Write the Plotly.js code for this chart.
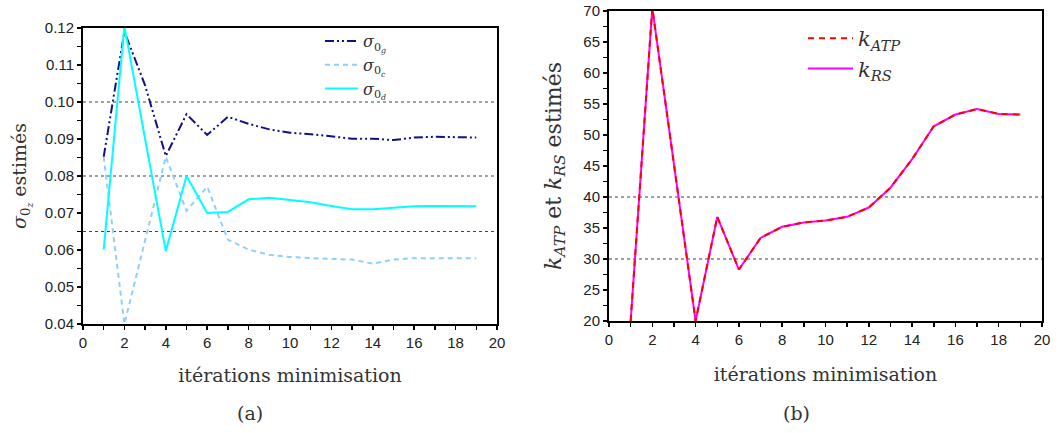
<!DOCTYPE html>
<html>
<head>
<meta charset="utf-8">
<script src="https://cdn.plot.ly/plotly-3.0.1.min.js"></script>
<style>html,body{margin:0;padding:0;background:#fff;}#chart{width:1059px;height:433px;}</style>
</head>
<body>
<div id="chart"></div>
<script>
// ---- data ----
const iterations = [1,2,3,4,5,6,7,8,9,10,11,12,13,14,15,16,17,18,19];
const sigma0g = [0.0852,0.1190,0.1045,0.0854,0.0967,0.0911,0.0960,0.0941,0.0926,0.0917,0.0913,0.0906,0.0901,0.0901,0.0897,0.0904,0.0906,0.0905,0.0904];
const sigma0c = [0.0852,0.0400,0.0626,0.0852,0.0706,0.0771,0.0628,0.0601,0.0587,0.0581,0.0578,0.0575,0.0574,0.0563,0.0574,0.0578,0.0578,0.0578,0.0578];
const sigma0d = [0.0601,0.1205,0.0900,0.0597,0.0800,0.0700,0.0703,0.0737,0.0741,0.0736,0.0729,0.0719,0.0710,0.0710,0.0715,0.0718,0.0719,0.0719,0.0718];
const kATP = [20.0,70.5,45.3,20.0,36.8,28.3,33.4,35.2,35.9,36.2,36.8,38.3,41.5,46.1,51.4,53.3,54.2,53.4,53.3];
const kRS  = [20.0,70.5,45.3,20.0,36.8,28.3,33.4,35.2,35.9,36.2,36.8,38.3,41.5,46.1,51.4,53.3,54.2,53.4,53.3];
const refLevelsA = [0.10, 0.08, 0.065];
const refLevelsB = [40, 30];
const nameG = '<i>σ</i><sub>0<sub><i>g</i></sub></sub>';
const nameC = '<i>σ</i><sub>0<sub><i>c</i></sub></sub>';
const nameD = '<i>σ</i><sub>0<sub><i>d</i></sub></sub>';
const nameATP = '<i>k</i><sub><i>ATP</i></sub>';
const nameRS = '<i>k</i><sub><i>RS</i></sub>';
const xTitle = 'itérations minimisation';
const yTitleA = '<i>σ</i><sub>0<sub><i>z</i></sub></sub> estimés';
const yTitleB = '<i>k</i><sub><i>ATP</i></sub> et <i>k</i><sub><i>RS</i></sub> estimés';

const W = 1059, H = 433;
const serif = 'DejaVu Serif';
const sans = 'Liberation Sans';

const traces = [
  {x: iterations, y: sigma0g, name: nameG, type: 'scatter', mode: 'lines', xaxis: 'x', yaxis: 'y', legend: 'legend',
   line: {color: '#10108a', width: 2, dash: '9px,3px,2px,3px,2px,3px'}},
  {x: iterations, y: sigma0c, name: nameC, type: 'scatter', mode: 'lines', xaxis: 'x', yaxis: 'y', legend: 'legend',
   line: {color: '#8fd0fb', width: 2, dash: '5px,4px'}},
  {x: iterations, y: sigma0d, name: nameD, type: 'scatter', mode: 'lines', xaxis: 'x', yaxis: 'y', legend: 'legend',
   line: {color: '#00ffff', width: 2}},
  {x: iterations, y: kRS, name: nameRS, type: 'scatter', mode: 'lines', xaxis: 'x2', yaxis: 'y2', legend: 'legend2', legendrank: 2,
   line: {color: '#ff00ff', width: 2}},
  {x: iterations, y: kATP, name: nameATP, type: 'scatter', mode: 'lines', xaxis: 'x2', yaxis: 'y2', legend: 'legend2', legendrank: 1,
   line: {color: '#ff0000', width: 2, dash: '6px,5px'}}
];

const shapes = [];
refLevelsA.forEach(v => shapes.push({type: 'line', xref: 'x domain', yref: 'y', x0: 0, x1: 1, y0: v, y1: v,
  line: {color: '#444', width: 1.2, dash: 'dot'}, layer: 'below'}));
refLevelsB.forEach(v => shapes.push({type: 'line', xref: 'x2 domain', yref: 'y2', x0: 0, x1: 1, y0: v, y1: v,
  line: {color: '#444', width: 1.2, dash: 'dot'}, layer: 'below'}));

function axisBase(extra) {
  return Object.assign({
    showgrid: false, zeroline: false, showline: true, linecolor: '#000', linewidth: 2, mirror: true,
    ticks: 'outside', ticklen: 4, tickwidth: 1.5, tickcolor: '#000',
    tickfont: {family: sans, size: 15, color: '#222'}, fixedrange: true
  }, extra);
}

const layout = {
  width: W, height: H,
  margin: {l: 0, r: 0, t: 0, b: 0},
  paper_bgcolor: '#fff', plot_bgcolor: '#fff',
  font: {family: serif},
  showlegend: true,
  xaxis: axisBase({domain: [83/W, 497/W], range: [0, 20], dtick: 2, tick0: 0, anchor: 'y',
    minor: {dtick: 1, ticks: 'outside', ticklen: 4, tickwidth: 1.5, tickcolor: '#000'},
    title: {text: xTitle, font: {family: serif, size: 19, color: '#333'}, standoff: 19}}),
  yaxis: axisBase({domain: [109/H, 405/H], range: [0.04, 0.12], dtick: 0.01, tick0: 0.04, tickformat: '.2f', anchor: 'x',
    minor: {dtick: 0.005, ticks: 'outside', ticklen: 4, tickwidth: 1.5, tickcolor: '#000'},
    title: {text: yTitleA, font: {family: serif, size: 19, color: '#333'}, standoff: 13}}),
  xaxis2: axisBase({domain: [609/W, 1042/W], range: [0, 20], dtick: 2, tick0: 0, anchor: 'y2',
    minor: {dtick: 1, ticks: 'outside', ticklen: 4, tickwidth: 1.5, tickcolor: '#000'},
    title: {text: xTitle, font: {family: serif, size: 19, color: '#333'}, standoff: 21}}),
  yaxis2: axisBase({domain: [112/H, 422/H], range: [20, 70], dtick: 5, tick0: 20, anchor: 'x2',
    minor: {dtick: 2.5, ticks: 'outside', ticklen: 4, tickwidth: 1.5, tickcolor: '#000'},
    title: {text: yTitleB, font: {family: serif, size: 22, color: '#333'}, standoff: 16}}),
  legend: {x: 320/W, y: 1 - 24/H, xanchor: 'left', yanchor: 'top', bgcolor: 'rgba(0,0,0,0)', borderwidth: 0,
    itemwidth: 33, font: {family: serif, size: 16, color: '#333'}, tracegroupgap: 0},
  legend2: {x: 803/W, y: 1 - 18/H, xanchor: 'left', yanchor: 'top', bgcolor: 'rgba(0,0,0,0)', borderwidth: 0,
    itemwidth: 45, font: {family: serif, size: 21, color: '#333'}, traceorder: 'normal'},
  shapes: shapes,
  annotations: [
    {text: '(a)', xref: 'paper', yref: 'paper', x: 250/W, y: 1 - 413/H, xanchor: 'center', yanchor: 'middle', showarrow: false,
     font: {family: serif, size: 19, color: '#333'}},
    {text: '(b)', xref: 'paper', yref: 'paper', x: 796/W, y: 1 - 413/H, xanchor: 'center', yanchor: 'middle', showarrow: false,
     font: {family: serif, size: 19, color: '#333'}}
  ]
};

Plotly.newPlot('chart', traces, layout, {displayModeBar: false, staticPlot: true});
</script>
</body>
</html>
